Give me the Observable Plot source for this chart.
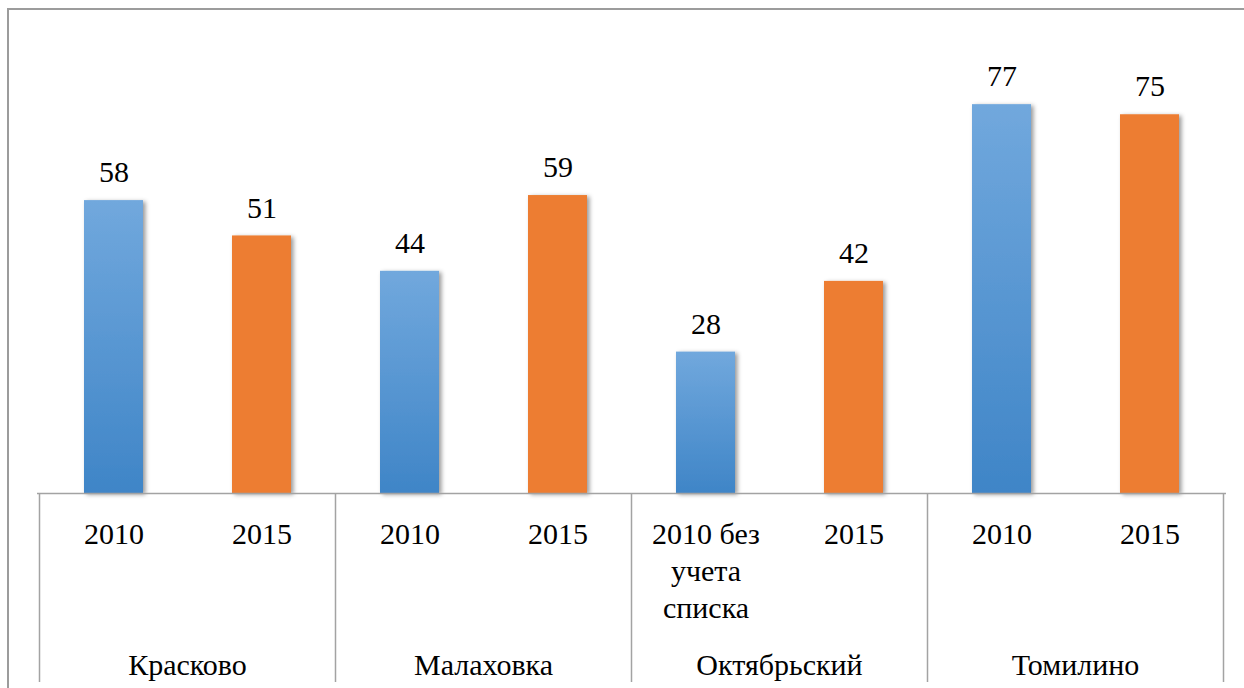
<!DOCTYPE html>
<html>
<head>
<meta charset="utf-8">
<script src="https://cdn.jsdelivr.net/npm/d3@7"></script>
<script src="https://cdn.jsdelivr.net/npm/@observablehq/plot@0.6"></script>
<style>
  html, body { margin: 0; padding: 0; background: #fff; overflow: hidden; }
  #wrap { position: relative; width: 1244px; height: 688px; overflow: hidden; }
  #frame { position: absolute; left: 7px; top: 8px; width: 1400px; height: 900px;
           border: 2px solid #9c9c9c; box-sizing: border-box; pointer-events: none; }
  #chart { position: absolute; left: 0; top: 0; }
</style>
</head>
<body>
<div id="wrap">
  <div id="chart"></div>
  <div id="frame"></div>
</div>
<script>
// ---- data ----
const groups = ["Красково", "Малаховка", "Октябрьский", "Томилино"];
const years = ["2010", "2015"];
const yearLabels2010 = ["2010", "2010", "2010 без\nучета\nсписка", "2010"];
const yearLabels2015 = ["2015", "2015", "2015", "2015"];
const values2010 = [58, 44, 28, 77];
const values2015 = [51, 59, 42, 75];

// ---- table ----
const rows2010 = groups.map((g, i) => ({key: g + "|2010", group: g, year: "2010", label: yearLabels2010[i], value: values2010[i]}));
const rows2015 = groups.map((g, i) => ({key: g + "|2015", group: g, year: "2015", label: yearLabels2015[i], value: values2015[i]}));
const rows = groups.flatMap((g, i) => [rows2010[i], rows2015[i]]);
const keys = rows.map(d => d.key);

const FONT = "Liberation Serif";
const FS = 30;

const plot = Plot.plot({
  width: 1244,
  height: 688,
  marginLeft: 37,
  marginRight: 18,
  marginTop: 38.5,
  marginBottom: 195,
  style: "font-family: 'Liberation Serif'; background: transparent; overflow: visible;",
  x: {domain: keys, paddingInner: 0.6, paddingOuter: 0.3, axis: null},
  y: {domain: [0, 90], axis: null},
  marks: [
    Plot.barY(rows2010, {x: "key", y: "value", fill: "url(#blueGrad)", inset: 0}),
    Plot.barY(rows2015, {x: "key", y: "value", fill: "#ed7d31", inset: 0}),
    Plot.ruleY([0], {stroke: "#a3a3a3", strokeWidth: 1.5}),
    Plot.text(rows, {x: "key", y: "value", text: d => String(d.value), dy: -28,
      fontSize: FS, fill: "#000", fontFamily: FONT}),
    Plot.text(rows, {x: "key", text: "label", frameAnchor: "bottom", lineAnchor: "top",
      dy: 24, lineHeight: 1.24, fontSize: FS, fill: "#000", fontFamily: FONT})
  ]
});

const svg = d3.select(plot);
// defs: gradient + shadow
const defs = svg.insert("defs", ":first-child");
const grad = defs.append("linearGradient").attr("id", "blueGrad")
  .attr("x1", 0).attr("y1", 0).attr("x2", 0).attr("y2", 1);
grad.append("stop").attr("offset", "0%").attr("stop-color", "#71a8dd");
grad.append("stop").attr("offset", "100%").attr("stop-color", "#3f85c7");
const f = defs.append("filter").attr("id", "shadow")
  .attr("x", "-30%").attr("y", "-10%").attr("width", "170%").attr("height", "120%");
f.append("feDropShadow").attr("dx", 2.5).attr("dy", 1.5).attr("stdDeviation", 2.2)
  .attr("flood-color", "#000").attr("flood-opacity", 0.4);

// apply shadow to bars
svg.selectAll("g[aria-label='bar'] rect").attr("filter", "url(#shadow)");

// category axis boxes and group labels, positioned from the scales
const xs = plot.scale("x");
const ys = plot.scale("y");
const bw = xs.bandwidth;
const step = xs.apply(keys[1]) - xs.apply(keys[0]);
const y0 = ys.apply(0);
const deco = svg.append("g");
const edges = [];
groups.forEach((g, i) => {
  const left = xs.apply(g + "|2010") - (step - bw) / 2;
  const right = xs.apply(g + "|2015") + bw + (step - bw) / 2;
  edges.push(left);
  if (i === groups.length - 1) edges.push(right);
  deco.append("text")
    .attr("x", (left + right) / 2)
    .attr("y", y0 + 172)
    .attr("dy", "0.32em")
    .attr("text-anchor", "middle")
    .attr("font-family", FONT)
    .attr("font-size", FS)
    .attr("fill", "#000")
    .text(g);
});
edges.forEach(x => {
  deco.append("line")
    .attr("x1", x).attr("x2", x)
    .attr("y1", y0).attr("y2", y0 + 189)
    .attr("stroke", "#a3a3a3").attr("stroke-width", 1.5);
});

svg.selectAll("text, tspan, g").style("font-family", "'Liberation Serif', serif", "important");
plot.style.setProperty("font-family", "'Liberation Serif', serif", "important");

document.getElementById("chart").appendChild(plot);
</script>
</body>
</html>
